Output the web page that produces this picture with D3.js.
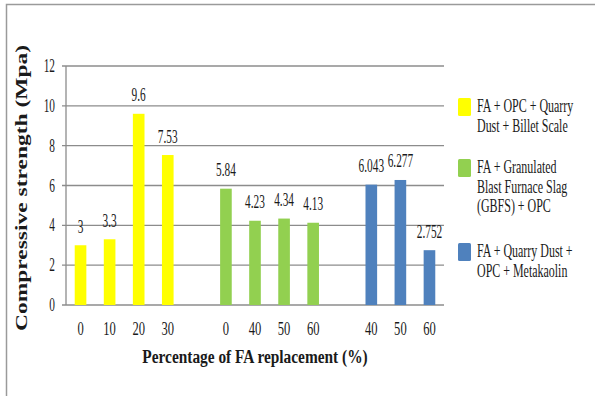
<!DOCTYPE html>
<html>
<head>
<meta charset="utf-8">
<script src="https://cdn.jsdelivr.net/npm/d3@7"></script>
<style>
  html, body { margin: 0; padding: 0; background: #fff; }
  svg { display: block; }
</style>
</head>
<body>
<svg id="chart" width="595" height="396"></svg>
<script>
// Slot labels along the x axis (empty strings are the gaps between mixes)
const slotLabels = ["0", "10", "20", "30", "", "0", "40", "50", "60", "", "40", "50", "60"];
// Which series owns each slot (-1 = gap)
const slotSeries = [0, 0, 0, 0, -1, 1, 1, 1, 1, -1, 2, 2, 2];
// Compressive strength values (MPa)
const quarryBillet = [3, 3.3, 9.6, 7.53];
const gbfs = [5.84, 4.23, 4.34, 4.13];
const metakaolin = [6.043, 6.277, 2.752];
const valueLabels = [["3", "3.3", "9.6", "7.53"], ["5.84", "4.23", "4.34", "4.13"], ["6.043", "6.277", "2.752"]];
const seriesNames = [
  ["FA + OPC + Quarry", "Dust + Billet Scale"],
  ["FA + Granulated", "Blast Furnace Slag", "(GBFS) + OPC"],
  ["FA + Quarry Dust +", "OPC + Metakaolin"]
];
const seriesColors = ["#FFFF00", "#92D050", "#4F81BD"];
const yTicks = [0, 2, 4, 6, 8, 10, 12];

const seriesValues = [quarryBillet, gbfs, metakaolin];

// Flatten into per-slot records
const counters = [0, 0, 0];
const bars = [];
slotSeries.forEach((s, i) => {
  if (s < 0) return;
  const k = counters[s]++;
  bars.push({ slot: i, series: s, value: seriesValues[s][k], label: valueLabels[s][k] });
});

const FONT = "Liberation Serif";
const svg = d3.select("#chart");

const m = { left: 66, right: 444, top: 66, bottom: 305 };

const x = d3.scaleBand().domain(d3.range(slotLabels.length)).range([m.left, m.right]).paddingInner(0.6).paddingOuter(0.3);
const y = d3.scaleLinear().domain([0, 12]).range([m.bottom, m.top]);

function txt(sel) { return sel.attr("font-family", FONT).attr("fill", "#1a1a1a"); }

// Outer frame (top and left edges)
svg.append("path").attr("d", "M6.5,396 V4.5 H595").attr("fill", "none").attr("stroke", "#9a9a9a").attr("stroke-width", 1.5);

// Gridlines
svg.append("g").selectAll("line").data(yTicks).join("line")
  .attr("x1", m.left - 4).attr("x2", m.right)
  .attr("y1", d => y(d)).attr("y2", d => y(d))
  .attr("stroke", "#8c8c8c").attr("stroke-width", 1.3);

// Y axis line
svg.append("line").attr("x1", m.left).attr("x2", m.left).attr("y1", y(12)).attr("y2", y(0))
  .attr("stroke", "#8c8c8c").attr("stroke-width", 1.3);

// Y tick labels
svg.append("g").selectAll("text").data(yTicks).join("text").call(txt)
  .attr("transform", d => `translate(55,${y(d) + 6}) scale(0.63,1)`)
  .attr("text-anchor", "end").attr("font-size", 18)
  .text(d => d);

// Bars
svg.append("g").selectAll("rect").data(bars).join("rect")
  .attr("x", d => x(d.slot)).attr("width", x.bandwidth())
  .attr("y", d => y(d.value)).attr("height", d => y(0) - y(d.value))
  .attr("fill", d => seriesColors[d.series]);

// Value labels
svg.append("g").selectAll("text").data(bars).join("text").call(txt)
  .attr("transform", d => `translate(${x(d.slot) + x.bandwidth() / 2},${y(d.value) - 12.5}) scale(0.63,1)`)
  .attr("text-anchor", "middle").attr("font-size", 18)
  .text(d => d.label);

// X tick labels
svg.append("g").selectAll("text").data(slotLabels.map((l, i) => ({ l, i })).filter(d => d.l !== "")).join("text").call(txt)
  .attr("transform", d => `translate(${x(d.i) + x.bandwidth() / 2},335) scale(0.68,1)`)
  .attr("text-anchor", "middle").attr("font-size", 18.5)
  .text(d => d.l);

// X axis title
svg.append("text").call(txt)
  .attr("transform", `translate(255,363) scale(0.81,1)`)
  .attr("text-anchor", "middle").attr("font-size", 19).attr("font-weight", "bold")
  .text("Percentage of FA replacement (%)");

// Y axis title
svg.append("text").call(txt)
  .attr("transform", `translate(27,188) scale(0.7,1) rotate(-90)`)
  .attr("text-anchor", "middle").attr("font-size", 23.5).attr("font-weight", "bold")
  .text("Compressive strength (Mpa)");

// Legend
const legendTop = [98, 159, 243];
const lg = svg.append("g");
seriesNames.forEach((lines, i) => {
  lg.append("rect").attr("x", 458).attr("y", legendTop[i]).attr("width", 13).attr("height", 18)
    .attr("rx", 1.5).attr("fill", seriesColors[i]);
  lines.forEach((t, j) => {
    lg.append("text").call(txt)
      .attr("transform", `translate(477,${legendTop[i] + 14 + j * 19.5}) scale(0.665,1)`)
      .attr("font-size", 18)
      .text(t);
  });
});
</script>
</body>
</html>
